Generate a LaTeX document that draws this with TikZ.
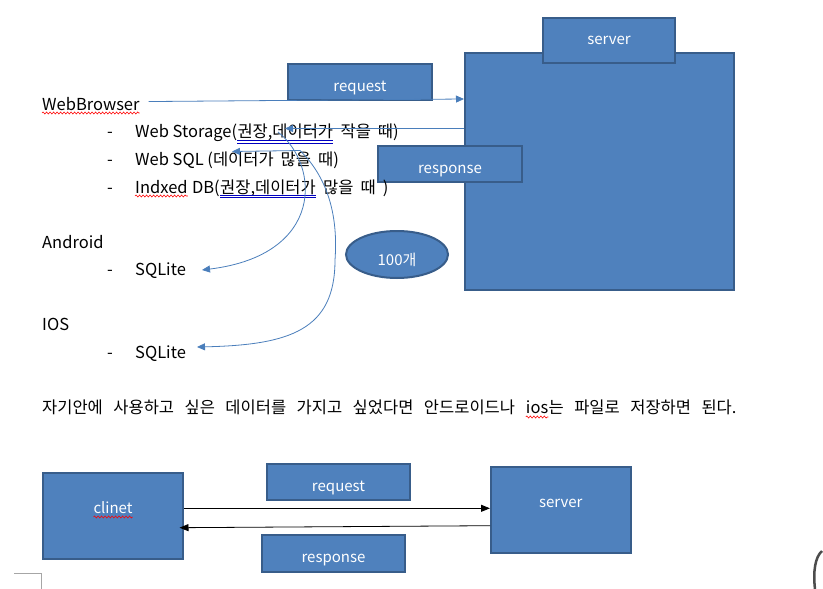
\documentclass[tikz,border=0pt]{standalone}
\usepackage{fontspec}
\setmainfont{Noto Sans CJK KR}
\usepackage{xcolor}
\usetikzlibrary{arrows.meta,positioning,shapes.geometric,decorations.pathmorphing}
\definecolor{boxfill}{HTML}{4F81BD}
\definecolor{boxline}{HTML}{385D8A}
\definecolor{linkblue}{HTML}{4A7EBB}
\definecolor{markgray}{HTML}{A6A6A6}
\tikzset{
  box/.style={rectangle, draw=boxline, fill=boxfill, line width=2pt, inner sep=0pt, text=white, font=\fontsize{15}{18}\selectfont, text height=27pt, text depth=9pt},
  tallbox/.style={box, text height=40pt, text depth=46pt},
  badge/.style={ellipse, draw=boxline, fill=boxfill, line width=2pt, inner sep=0pt, text=white, font=\fontsize{15}{18}\selectfont, text height=22pt, text depth=1pt},
  txt/.style={anchor=base west, inner sep=0pt, font=\fontsize{16.5}{20}\selectfont},
  link/.style={-{Triangle[length=8pt,width=7pt]}, linkblue, line width=0.8pt},
  flow/.style={-{Triangle[length=9pt,width=7pt]}, black, line width=0.8pt},
  wavy/.style={red, line width=0.6pt, decorate, decoration={snake, amplitude=1pt, segment length=3.5pt}},
  gramline/.style={blue!75!black, line width=0.6pt},
}
\newcommand{\ksp}{\hspace{7pt}}
\newcommand{\wsp}{\hspace{10.5pt}}

\begin{document}
\begin{tikzpicture}[x=1pt,y=-1pt]
\useasboundingbox (0,0) rectangle (823,589);
\node[box, minimum width=269pt, minimum height=237pt, text height=0pt, text depth=0pt] (srv) at (599.5,171.5) {};
\node[box, minimum width=132pt, text depth=18pt] (srvlbl) at (609,40.5) {server};
\node[box, minimum width=144pt] (req) at (360,82) {request};
\node[box, minimum width=144pt] (resp) at (450,164) {response};
\node[badge, minimum width=102pt, minimum height=47pt] (cnt) at (397,254.5) {100개};

\node[txt] (wb) at (42,110) {WebBrowser};
\node[txt] (d1) at (107,137) {-};
\node[txt] (ws) at (135,137) {Web Storage(};
\node[txt] (wsu) at (ws.base east) {권장,데이터가};
\node[txt] (wsr) at ([xshift=7pt]wsu.base east) {작을\ksp 때)};
\node[txt] (d2) at (107,165) {-};
\node[txt] (wsql) at (135,165) {Web SQL (데이터가\ksp 많을\ksp 때)};
\node[txt] (d3) at (107,193) {-};
\node[txt] (idb) at (135,193) {Indxed};
\node[txt] (idbm) at ([xshift=4pt]idb.base east) {DB(};
\node[txt] (idbu) at (idbm.base east) {권장,데이터가};
\node[txt] (idbr) at ([xshift=7pt]idbu.base east) {많을\ksp 때\ksp)};
\node[txt] (andr) at (42,248) {Android};
\node[txt] (d4) at (107,275) {-};
\node[txt] (andsql) at (135,275) {SQLite};
\node[txt] (ios) at (42,330) {IOS};
\node[txt] (d5) at (107,358) {-};
\node[txt] (iossql) at (135,358) {SQLite};
\node[txt] (note) at (42,413) {자기안에\wsp 사용하고\wsp 싶은\wsp 데이터를\wsp 가지고\wsp 싶었다면\wsp 안드로이드나};
\node[txt] (noteu) at ([xshift=10.5pt]note.base east) {ios};
\node[txt] (noter) at (noteu.base east) {는\wsp 파일로\wsp 저장하면\wsp 된다.};

\draw[wavy] ([yshift=-3pt]wb.base west) -- ([yshift=-3pt]wb.base east);
\draw[wavy] ([yshift=-3pt]idb.base west) -- ([yshift=-3pt]idb.base east);
\draw[wavy] ([yshift=-4pt]noteu.base west) -- ([yshift=-4pt]noteu.base east);
\draw[gramline] ([yshift=-3.7pt]wsu.base west) -- ([yshift=-3.7pt]wsu.base east);
\draw[gramline] ([yshift=-5.8pt]wsu.base west) -- ([yshift=-5.8pt]wsu.base east);
\draw[gramline] ([yshift=-2.5pt]idbu.base west) -- ([yshift=-2.5pt]idbu.base east);
\draw[gramline] ([yshift=-4.6pt]idbu.base west) -- ([yshift=-4.6pt]idbu.base east);

\coordinate (storin) at (285,128.5);
\coordinate (storout) at (278,132);
\coordinate (sqlin) at (232,151.5);
\coordinate (sqlout) at (300,150.5);
\coordinate (andin) at (202,270);
\coordinate (iosin) at (197,347);

\draw[link] ([xshift=9pt,yshift=2pt]wb.east) -- ([yshift=72.5pt]srv.west);
\draw[link] ([yshift=43pt]srv.west) -- (storin);
\draw[link] (sqlout) -- (sqlin);
\draw[link] (storout) .. controls (320,165) and (325,255) .. (andin);
\draw[link] (sqlout) .. controls (330,180) and (338,220) .. (335,260) .. controls (335,330) and (290,345) .. (iosin);

\node[tallbox, minimum width=140pt] (cli) at (113,516) {clinet};
\node[tallbox, minimum width=139.5pt] (srv2) at (560.75,510) {server};
\node[box, minimum width=143pt] (req2) at (338.5,482) {request};
\node[box, minimum width=143pt, text depth=10pt] (resp2) at (333.5,553.5) {response};
\draw[wavy] ([xshift=-19.5pt,yshift=-4pt]cli.base) -- ([xshift=19.5pt,yshift=-4pt]cli.base);
\draw[flow] ([yshift=7.7pt]cli.east) -- ([yshift=1.7pt]srv2.west);
\draw[flow] ([yshift=-15.7pt]srv2.west) -- ([xshift=-4.5pt,yshift=-11.7pt]cli.east);

\draw[markgray, line width=1pt] (14,573.3) -- (41.3,573.3) -- (41.3,589);
\draw[gray!60!black, line width=2.5pt] (822,551) .. controls (815,557) and (813,572) .. (815,589);
\end{tikzpicture}
\end{document}
